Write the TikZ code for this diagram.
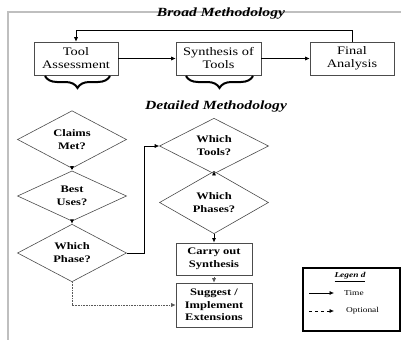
\documentclass[tikz,border=0pt]{standalone}
\usepackage{fontspec}
\setmainfont{Liberation Serif}[FakeStretch=1.25, BoldFont={Liberation Serif Bold}, ItalicFont={Liberation Serif Italic}, BoldItalicFont={Liberation Serif Bold Italic}]
\usetikzlibrary{shapes.geometric,arrows.meta,decorations.pathreplacing}
\begin{document}
\begin{tikzpicture}[x=1pt,y=-1pt,
 box/.style={draw=gray!60!black, line width=0.6pt, minimum width=84pt, minimum height=33pt, inner sep=1pt, align=center, font=\fontsize{11.5}{13}\selectfont},
 bbox/.style={box, font=\fontsize{10}{12.5}\selectfont\bfseries},
 dia/.style={diamond, draw=gray!60!black, line width=0.6pt, minimum width=109pt, minimum height=43pt, inner sep=0pt, align=center, font=\fontsize{10}{13}\selectfont\bfseries},
 tarr/.style={-{Latex[length=4.5pt,width=4pt]}, line width=0.6pt},
 oarr/.style={tarr, densely dotted, gray!70!black},
 brc/.style={decorate, decoration={brace, mirror, amplitude=12pt, aspect=0.5}, line width=2pt},
 ttl/.style={font=\fontsize{12.5}{14}\selectfont\bfseries\itshape},
 lgt/.style={font=\fontsize{7.5}{8}\selectfont, anchor=west, inner sep=0pt},
]
\useasboundingbox (0,0) rectangle (401,340);
\draw[gray!50, line width=1.2pt] (401,12) -- (8,12) -- (8,340);
\node[ttl] (t1) at (221,14) {Broad Methodology};
\node[box] (ta) at (76,58.5) {Tool\\Assessment};
\node[box, minimum width=85pt] (syn) at (218.5,58.5) {Synthesis of\\Tools};
\node[box] (fa) at (352,58.5) {Final\\Analysis};
\draw[tarr] (ta) -- (syn);
\draw[tarr] (syn) -- (fa);
\draw[tarr] (fa.north) -- ++(0,-11) -| (ta.north);
\draw[brc] (45,76) -- (110,76);
\draw[brc] (186,76) -- (253,76);
\node[ttl] (t2) at (216,107) {Detailed Methodology};
\node[dia] (cm) at (72,139.5) {Claims\\Met?};
\node[dia] (bu) at (72,196) {Best\\Uses?};
\node[dia] (wp) at (72,253) {Which\\Phase?};
\node[dia] (wt) at (214,146) {Which\\Tools?};
\node[dia] (wps) at (214,202.5) {Which\\Phases?};
\node[bbox, minimum width=76pt, minimum height=32pt] (cs) at (214,259) {Carry out\\Synthesis};
\node[bbox, minimum width=76pt, minimum height=44pt] (se) at (214,305) {Suggest /\\Implement\\Extensions};
\draw[tarr, line width=1.2pt] (cm) -- (bu);
\draw[tarr, line width=1.2pt] (bu) -- (wp);
\draw[tarr] (wp.east) -- ++(17,0) |- (wt.west);
\draw[tarr] (wt) -- (wps);
\draw[tarr, line width=0.9pt] (wps) -- (cs);
\draw[oarr] (cs) -- (se);
\draw[oarr] (wp.south) |- (se.west);
\node[draw, line width=2pt, minimum width=97pt, minimum height=63pt, inner sep=0pt] (lg) at (351,299.5) {};
\node[font=\fontsize{7.5}{8}\selectfont\bfseries\itshape] (lt) at (350,277) {\underline{Legen d}};
\coordinate (a1) at (309,293);
\coordinate (a2) at (334,293);
\coordinate (b1) at (309,311);
\coordinate (b2) at (334,311);
\draw[tarr] (a1) -- (a2);
\draw[oarr, dashed, black] (b1) -- (b2);
\node[lgt] (l1) at (344,293) {Time};
\node[lgt] (l2) at (346,311) {Optional};
\end{tikzpicture}
\end{document}
